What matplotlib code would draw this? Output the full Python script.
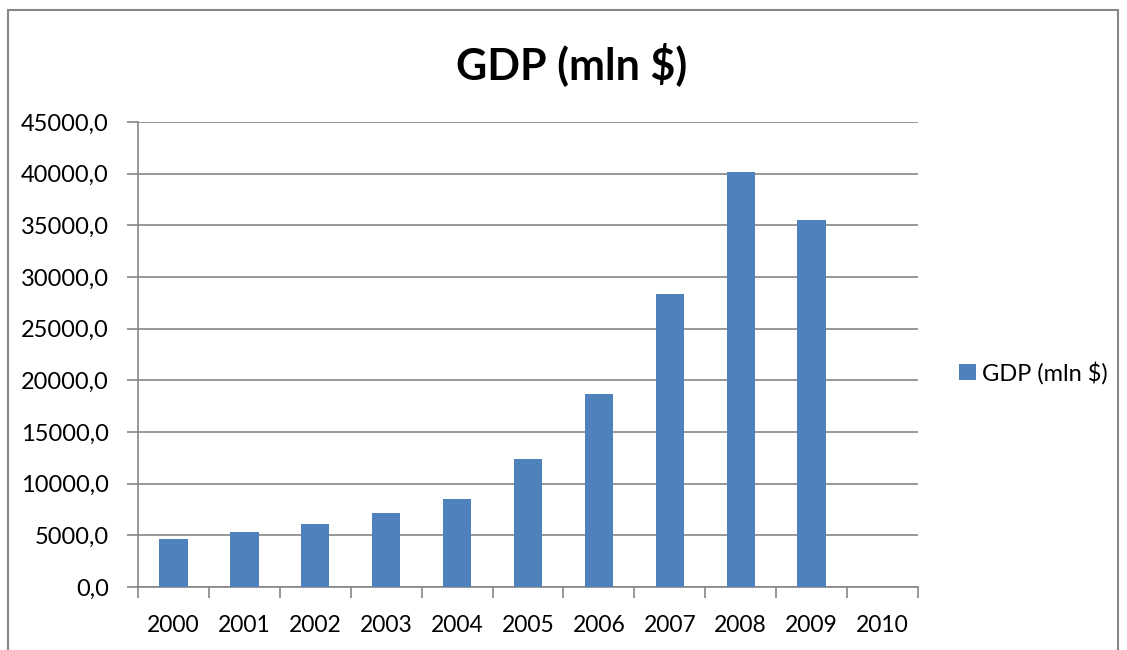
import matplotlib.pyplot as plt
from matplotlib.patches import Rectangle
import numpy as np

# data
years = ['2000', '2001', '2002', '2003', '2004', '2005', '2006', '2007', '2008', '2009', '2010']
gdp = [4660, 5300, 6050, 7180, 8470, 12420, 18690, 28320, 40150, 35560, 0]
y_ticks = [0, 5000, 10000, 15000, 20000, 25000, 30000, 35000, 40000, 45000]

plt.rcParams['font.family'] = ['Lato', 'DejaVu Sans']

fig = plt.figure(figsize=(11.27, 6.5), dpi=100)
ax = fig.add_axes([138/1127, 1-587/650, (918-138)/1127, (587-122)/650])

x = np.arange(len(years))
ax.bar(x, gdp, width=0.40, color='#4F81BD', label='GDP (mln $)', zorder=3)

ax.set_xlim(-0.5, len(years)-0.5)
ax.set_ylim(0, 45000)
ax.set_yticks(y_ticks)
ax.set_yticklabels(['%d,0' % v for v in y_ticks], fontsize=17)
ax.set_xticks(x)
ax.set_xticklabels(years, fontsize=16.5)
ax.set_xticks(np.arange(len(years)+1)-0.5, minor=True)
ax.tick_params(axis='x', which='major', length=0, pad=20)
ax.tick_params(axis='x', which='minor', length=8, color='#868686', width=1.2)
ax.tick_params(axis='y', length=8, color='#868686', width=1.2, pad=13)
ax.grid(axis='y', color='#868686', linewidth=1.2, zorder=0)
for s in ['top', 'right']:
    ax.spines[s].set_visible(False)
for s in ['left', 'bottom']:
    ax.spines[s].set_color('#868686')
    ax.spines[s].set_linewidth(1.2)

fig.text(572/1127, 1-64/650, 'GDP (mln $)', ha='center', va='center', fontsize=31, fontweight='bold')

fig.legend(loc='center left', bbox_to_anchor=(938/1127, 1-373/650), frameon=False,
           fontsize=17, handlelength=0.7, handleheight=0.7, handletextpad=0.25)

# outer chart border
fig.patches.append(Rectangle((8/1127, -0.05), (1118-8)/1127, 1.05-10/650, transform=fig.transFigure,
                             fill=False, edgecolor='#868686', linewidth=1.5))

fig.savefig('out.png', dpi=100)
